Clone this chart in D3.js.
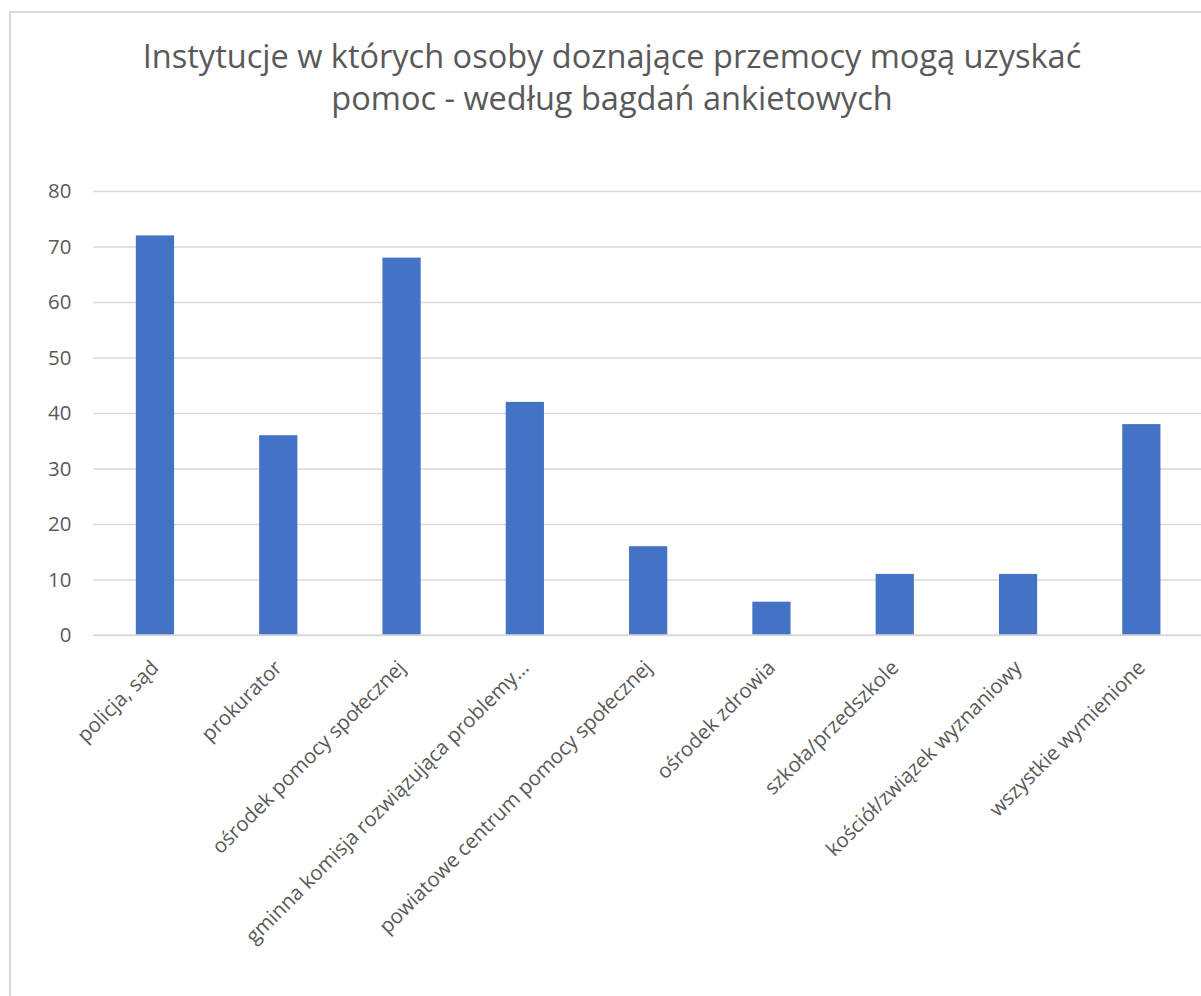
<!DOCTYPE html>
<html><head><meta charset="utf-8">
<script src="https://cdn.jsdelivr.net/npm/d3@7"></script>
<style>html,body{margin:0;padding:0;background:#fff;overflow:hidden}</style>
</head><body>
<svg id="c" width="1201" height="996"></svg>
<script>
const categories = ["policja, sąd","prokurator","ośrodek pomocy społecznej","gminna komisja rozwiązująca problemy…","powiatowe centrum pomocy społecznej","ośrodek zdrowia","szkoła/przedszkole","kościół/związek wyznaniowy","wszystkie wymienione"];
const values = [72,36,68,42,16,6,11,11,38];
const yTicks = [0,10,20,30,40,50,60,70,80];
const titleLines = ["Instytucje w których osoby doznające przemocy mogą uzyskać","pomoc - według bagdań ankietowych"];

(function(){
const svg = d3.select("#c");
const font = "'Open Sans', sans-serif";
const textColor = "#595959";

// chart border
svg.append("rect").attr("x",10).attr("y",12).attr("width",1240).attr("height",1100)
  .attr("fill","#fff").attr("stroke","#d9d9d9").attr("stroke-width",2);

const pL = 93.3, pR = 1203, pT = 191, pB = 635;
const x = d3.scaleBand().domain(categories).range([pL,pR]).paddingInner(0.69).paddingOuter(0.345);
const y = d3.scaleLinear().domain([0,80]).range([pB,pT]);

// helper: fit font size so a text's width matches target
function fitSize(str, target, base){
  const tmp = svg.append("text").style("font-family",font).style("font-size",base+"px").text(str);
  const w = tmp.node().getComputedTextLength(); tmp.remove();
  return base*target/w;
}
const titleSize = fitSize(titleLines[0], 939, 30);
const labelSize = fitSize(categories[4], 376, 20);

// title
const t = svg.append("text").attr("text-anchor","middle").attr("fill",textColor)
  .style("font-family",font).style("font-size",titleSize+"px");
titleLines.forEach((l,i)=>t.append("tspan").attr("x",612).attr("y",68+i*42).text(l));

// gridlines
const grid = svg.append("g").attr("transform",`translate(${pL},0)`)
  .call(d3.axisLeft(y).tickValues(yTicks).tickSize(-(pR-pL)).tickFormat(""));
grid.select(".domain").remove();
grid.selectAll("line").attr("stroke","#d9d9d9").attr("stroke-width",1.5);

// y labels
const ya = svg.append("g").attr("transform",`translate(${pL},0)`)
  .call(d3.axisLeft(y).tickValues(yTicks).tickSize(0).tickPadding(22));
ya.select(".domain").remove();
ya.selectAll("text").attr("fill",textColor).style("font-family",font).style("font-size",labelSize+"px");

// bars
svg.append("g").selectAll("rect").data(values).join("rect")
  .attr("x",(d,i)=>x(categories[i])).attr("width",x.bandwidth())
  .attr("y",d=>y(d)).attr("height",d=>y(0)-y(d)).attr("fill","#4472C4");

// x labels
const xa = svg.append("g").attr("transform",`translate(0,${pB})`)
  .call(d3.axisBottom(x).tickSize(0).tickPadding(0));
xa.select(".domain").attr("stroke","#d9d9d9").attr("stroke-width",1.5).attr("d",`M${pL},0H${pR}`);
xa.selectAll(".tick text").attr("fill",textColor).style("font-family",font).style("font-size",labelSize+"px")
  .attr("text-anchor","end").attr("dy",null).attr("y",0)
  .attr("transform","translate(5,34) rotate(-45)");
})();
</script>
</body></html>
